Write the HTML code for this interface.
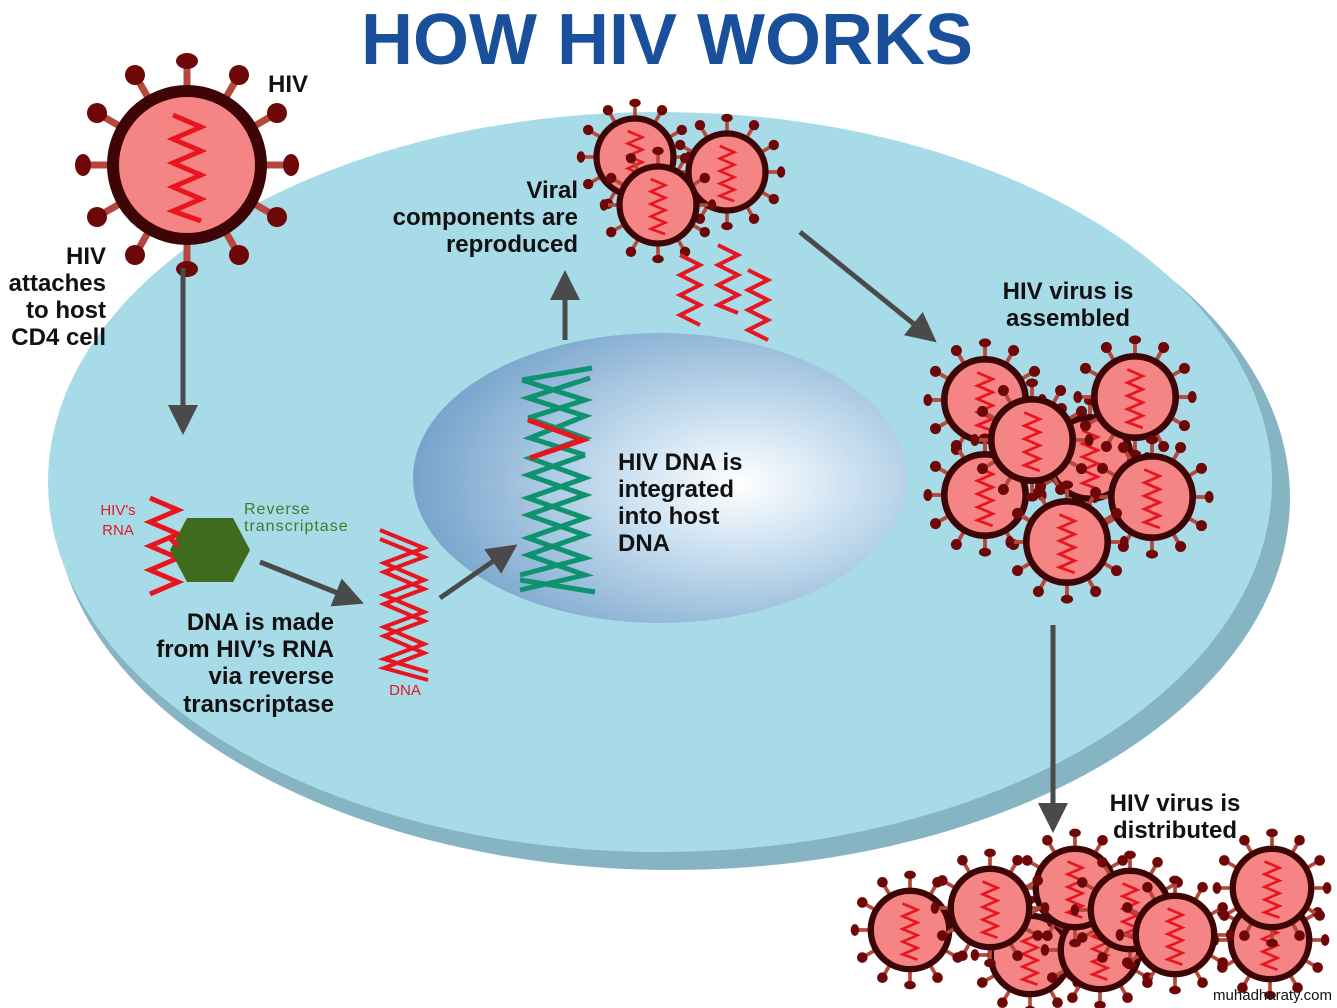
<!DOCTYPE html>
<html><head><meta charset="utf-8"><style>
html,body{margin:0;padding:0;background:#fff;}
svg{display:block;}
text{font-family:"Liberation Sans",sans-serif;font-weight:bold;}
</style></head><body>
<svg width="1337" height="1008" viewBox="0 0 1337 1008" xmlns="http://www.w3.org/2000/svg">
<defs>
<radialGradient id="nuc" cx="0.66" cy="0.52" r="0.7">
<stop offset="0" stop-color="#ffffff"/><stop offset="0.35" stop-color="#c9dff0"/><stop offset="1" stop-color="#6f9dc8"/>
</radialGradient>
<marker id="ah" markerWidth="6" markerHeight="6" refX="3" refY="3" orient="auto" markerUnits="strokeWidth">
<path d="M0,0 L6,3 L0,6 Z" fill="#4a4a4a"/></marker>
<g id="v">
<g stroke="#b5483a" stroke-width="7">
<line x1="0" y1="-78" x2="0" y2="-100"/><line x1="0" y1="78" x2="0" y2="100"/>
<line x1="-78" y1="0" x2="-100" y2="0"/><line x1="78" y1="0" x2="100" y2="0"/>
<line x1="39" y1="-67.5" x2="50" y2="-86.6"/><line x1="-39" y1="-67.5" x2="-50" y2="-86.6"/>
<line x1="39" y1="67.5" x2="50" y2="86.6"/><line x1="-39" y1="67.5" x2="-50" y2="86.6"/>
<line x1="67.5" y1="-39" x2="86.6" y2="-50"/><line x1="-67.5" y1="-39" x2="-86.6" y2="-50"/>
<line x1="67.5" y1="39" x2="86.6" y2="50"/><line x1="-67.5" y1="39" x2="-86.6" y2="50"/>
</g>
<g fill="#6e0808">
<ellipse cx="0" cy="-104" rx="11" ry="8"/><ellipse cx="0" cy="104" rx="11" ry="8"/>
<ellipse cx="-104" cy="0" rx="8" ry="11"/><ellipse cx="104" cy="0" rx="8" ry="11"/>
<circle cx="52" cy="-90" r="10"/><circle cx="-52" cy="-90" r="10"/>
<circle cx="52" cy="90" r="10"/><circle cx="-52" cy="90" r="10"/>
<circle cx="90" cy="-52" r="10"/><circle cx="-90" cy="-52" r="10"/>
<circle cx="90" cy="52" r="10"/><circle cx="-90" cy="52" r="10"/>
</g>
<circle r="74" fill="#f58585" stroke="#3d0505" stroke-width="12"/>
<polyline points="-14,-50 14,-38 -14,-26 14,-14 -14,-2 14,10 -14,22 14,34 -14,46 14,56" fill="none" stroke="#e8141e" stroke-width="5"/>
</g>
</defs>

<ellipse cx="672" cy="498" rx="618" ry="372" fill="#86b4c2"/>
<ellipse cx="660" cy="482" rx="612" ry="370" fill="#a8dbe8"/>
<ellipse cx="660" cy="478" rx="247" ry="145" fill="url(#nuc)"/>

<text x="667" y="64" font-size="72" fill="#1a4f9c" text-anchor="middle" textLength="612" lengthAdjust="spacingAndGlyphs" style="font-weight:900">HOW HIV WORKS</text>

<use href="#v" transform="translate(187,165)"/>
<text x="268" y="92" font-size="24" fill="#111">HIV</text>
<g font-size="24" fill="#111" text-anchor="end">
<text x="106" y="264">HIV</text><text x="106" y="291">attaches</text><text x="106" y="318">to host</text><text x="106" y="345">CD4 cell</text>
</g>

<g stroke="#4a4a4a" stroke-width="5" fill="none" marker-end="url(#ah)">
<line x1="183" y1="268" x2="183" y2="420"/>
<line x1="260" y1="562" x2="350" y2="598"/>
<line x1="440" y1="598" x2="505" y2="553"/>
<line x1="565" y1="340" x2="565" y2="285"/>
<line x1="800" y1="232" x2="925" y2="333"/>
<line x1="1053" y1="625" x2="1053" y2="818"/>
</g>

<polyline points="150,498 178,510 150,522 178,534 150,546 178,558 150,570 178,582 150,594" fill="none" stroke="#e8141e" stroke-width="5"/>
<polygon points="187,518 233,518 250,550 233,582 187,582 170,550" fill="#3f6b1c"/>
<polyline points="178,534 170,538 178,546" fill="none" stroke="#e8141e" stroke-width="5"/>
<text x="118" y="515" font-size="15" fill="#e01a24" text-anchor="middle" style="font-weight:normal">HIV's</text>
<text x="118" y="535" font-size="15" fill="#e01a24" text-anchor="middle" style="font-weight:normal">RNA</text>
<text x="244" y="514" font-size="16" fill="#3f7a2a" style="font-weight:normal;letter-spacing:1px">Reverse</text>
<text x="244" y="531" font-size="16" fill="#3f7a2a" style="font-weight:normal;letter-spacing:1px">transcriptase</text>

<g font-size="24" fill="#111" text-anchor="end">
<text x="334" y="630">DNA is made</text><text x="334" y="657">from HIV’s RNA</text><text x="334" y="684">via reverse</text><text x="334" y="712">transcriptase</text>
</g>

<g fill="none" stroke="#e8141e" stroke-width="4">
<polyline points="380,530 424,548 384,563 424,580 384,595 424,612 384,627 424,644 384,659 428,672"/>
<polyline points="380,539 424,557 384,572 424,589 384,604 424,621 384,636 424,653 384,668 428,680"/>
</g>
<text x="405" y="695" font-size="15" fill="#e01a24" text-anchor="middle" style="font-weight:normal">DNA</text>

<g fill="none" stroke-width="5">
<polyline points="522,380 592,368" stroke="#0e9270"/>
<polyline points="522,380 585,400 528,418" stroke="#0e9270"/>
<polyline points="528,418 585,438 530,458 585,478 528,498 585,518 528,538 585,558 520,575" stroke="#0e9270"/>
<polyline points="590,378 528,398 585,416 530,438 585,455" stroke="#0e9270"/>
<polyline points="528,420 583,440 530,458" stroke="#e8141e"/>
<polyline points="585,455 528,475 585,495 528,515 585,535 528,555 585,575 520,590" stroke="#0e9270"/>
<polyline points="520,580 595,592" stroke="#0e9270"/>
</g>
<g font-size="24" fill="#111">
<text x="618" y="470">HIV DNA is</text><text x="618" y="497">integrated</text><text x="618" y="524">into host</text><text x="618" y="551">DNA</text>
</g>

<use href="#v" transform="translate(635,157) scale(0.52)"/>
<use href="#v" transform="translate(727,172) scale(0.52)"/>
<use href="#v" transform="translate(658,205) scale(0.52)"/>
<g fill="none" stroke="#e8141e" stroke-width="4">
<polyline points="680,255 700,265 680,275 700,285 680,295 700,305 680,315 700,325"/>
<polyline points="718,245 738,255 718,265 738,275 718,285 738,295 718,305 738,313"/>
<polyline points="748,270 768,280 748,290 768,300 748,310 768,320 748,330 768,340"/>
</g>
<g font-size="24" fill="#111" text-anchor="end">
<text x="578" y="198">Viral</text><text x="578" y="225">components are</text><text x="578" y="252">reproduced</text>
</g>

<text x="1068" y="299" font-size="24" fill="#111" text-anchor="middle">HIV virus is</text>
<text x="1068" y="326" font-size="24" fill="#111" text-anchor="middle">assembled</text>
<use href="#v" transform="translate(1090,458) scale(0.55)"/>
<use href="#v" transform="translate(985,400) scale(0.55)"/>
<use href="#v" transform="translate(1135,397) scale(0.55)"/>
<use href="#v" transform="translate(985,495) scale(0.55)"/>
<use href="#v" transform="translate(1152,497) scale(0.55)"/>
<use href="#v" transform="translate(1032,440) scale(0.55)"/>
<use href="#v" transform="translate(1067,542) scale(0.55)"/>

<text x="1175" y="811" font-size="24" fill="#111" text-anchor="middle">HIV virus is</text>
<text x="1175" y="838" font-size="24" fill="#111" text-anchor="middle">distributed</text>
<use href="#v" transform="translate(1030,955) scale(0.53)"/>
<use href="#v" transform="translate(1100,950) scale(0.53)"/>
<use href="#v" transform="translate(1270,940) scale(0.53)"/>
<use href="#v" transform="translate(910,930) scale(0.53)"/>
<use href="#v" transform="translate(1075,888) scale(0.53)"/>
<use href="#v" transform="translate(990,908) scale(0.53)"/>
<use href="#v" transform="translate(1130,910) scale(0.53)"/>
<use href="#v" transform="translate(1272,888) scale(0.53)"/>
<use href="#v" transform="translate(1175,935) scale(0.53)"/>
<text x="1332" y="1000" font-size="15" fill="#111" text-anchor="end" style="font-weight:normal">muhadharaty.com</text>
</svg>
</body></html>
